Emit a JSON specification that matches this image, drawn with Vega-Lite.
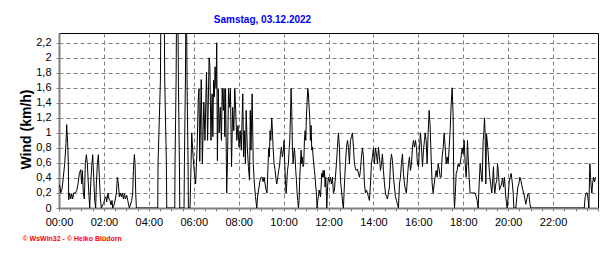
{
 "$schema": "https://vega.github.io/schema/vega-lite/v6.json",
 "width": 539, "height": 175,
 "autosize": {"type": "none"},
 "padding": {"left": 59, "top": 33, "right": 18, "bottom": 45},
 "background": "white",
 "title": {"text": "Samstag, 03.12.2022", "color": "#0000FF", "font": "Liberation Sans", "fontSize": 10, "fontWeight": "bold", "anchor": "middle", "frame": "group", "dx": -66, "offset": 0, "baseline": "alphabetic"},
 "data": {"values": [
  {"t":0,"v":0.31},{"t":2.7,"v":0.28},{"t":4.5,"v":0.2},{"t":8,"v":0.25},{"t":11.6,"v":0.41},{"t":15.2,"v":0.59},{"t":18.7,"v":0.86},{"t":20.5,"v":1.11},{"t":23.2,"v":0.86},{"t":25,"v":0.59},{"t":25.9,"v":0.11},{"t":28.5,"v":0.2},{"t":31.2,"v":0.12},{"t":33.9,"v":0.19},{"t":36.6,"v":0.12},{"t":39.2,"v":0.2},{"t":43.7,"v":0.2},{"t":47.2,"v":0.23},{"t":50.8,"v":0.32},{"t":54.4,"v":0.46},{"t":57.9,"v":0.51},{"t":60.6,"v":0.32},{"t":62.4,"v":0.5},{"t":65,"v":0.2},{"t":67.7,"v":0.12},{"t":70.4,"v":0.59},{"t":73.1,"v":0.71},{"t":75.8,"v":0.59},{"t":77.5,"v":0.41},{"t":80.2,"v":0.15},{"t":82,"v":0},{"t":84.7,"v":0.32},{"t":87.3,"v":0.55},{"t":90,"v":0.71},{"t":92.7,"v":0.41},{"t":95.4,"v":0.1},{"t":98,"v":0},{"t":99.8,"v":0.32},{"t":102.5,"v":0.59},{"t":105.2,"v":0.71},{"t":107.8,"v":0.41},{"t":110.5,"v":0.12},{"t":113.2,"v":0},{"t":116.7,"v":0.04},{"t":119.4,"v":0.06},{"t":122,"v":0.12},{"t":125.6,"v":0.15},{"t":127.4,"v":0.08},{"t":131,"v":0.2},{"t":133.6,"v":0.12},{"t":136.3,"v":0.1},{"t":139,"v":0.04},{"t":141.7,"v":0.1},{"t":143.5,"v":0},{"t":147,"v":0.04},{"t":150.6,"v":0.12},{"t":153.3,"v":0.2},{"t":155.9,"v":0.41},{"t":158.6,"v":0.32},{"t":161.3,"v":0.15},{"t":164,"v":0.2},{"t":166.6,"v":0.15},{"t":169.3,"v":0.2},{"t":172,"v":0.12},{"t":174.7,"v":0.19},{"t":177.3,"v":0.12},{"t":180.9,"v":0.17},{"t":183.6,"v":0.1},{"t":186.2,"v":0.04},{"t":188,"v":0},{"t":190.7,"v":0.04},{"t":194.2,"v":0.1},{"t":196.9,"v":0.2},{"t":198.7,"v":0.5},{"t":201.4,"v":0.71},{"t":203.2,"v":0.59},{"t":205,"v":0.2},{"t":206.7,"v":0},
  {"t":263.8,"v":0},{"t":264.6,"v":0.59},{"t":270.9,"v":1.69},{"t":271.8,"v":2.33},{"t":281.6,"v":2.33},{"t":282.5,"v":1.69},{"t":286.9,"v":0.59},{"t":287.8,"v":0},
  {"t":309.2,"v":0},{"t":310,"v":0.59},{"t":312.8,"v":1.69},{"t":313.7,"v":2.33},{"t":318.1,"v":2.33},{"t":319,"v":1.69},{"t":321.7,"v":0.59},{"t":322.6,"v":0},
  {"t":334.1,"v":0},{"t":335,"v":0.59},{"t":337.7,"v":1.69},{"t":338.6,"v":2.33},{"t":341.2,"v":2.33},{"t":342.1,"v":1.69},{"t":344.8,"v":0.59},{"t":345.7,"v":0},{"t":350.1,"v":0},
  {"t":352.8,"v":0.59},{"t":354.6,"v":1.0},{"t":358,"v":0.7},{"t":362,"v":0.45},{"t":365,"v":0.32},{"t":369,"v":0.8},{"t":372,"v":1.45},{"t":374,"v":1.59},{"t":376,"v":0.62},{"t":380,"v":1.71},{"t":383,"v":0.59},{"t":387,"v":1.41},{"t":390,"v":0.9},{"t":394,"v":1.81},{"t":397,"v":0.9},{"t":401,"v":2.0},{"t":403,"v":1.9},{"t":406,"v":0.9},{"t":409,"v":1.52},{"t":411,"v":0.95},{"t":413,"v":1.7},{"t":415,"v":1.48},{"t":417,"v":1.88},{"t":419.6,"v":1.6},{"t":421.4,"v":2.2},{"t":423.2,"v":0.63},{"t":425.5,"v":1.59},{"t":428,"v":1.0},{"t":431,"v":1.34},{"t":434,"v":0.9},{"t":436,"v":1.59},{"t":439,"v":1.3},{"t":441,"v":1.59},{"t":443,"v":0.95},{"t":445,"v":1.59},{"t":448,"v":0.2},{"t":450,"v":0.59},{"t":453,"v":1.59},{"t":456,"v":1.34},{"t":458,"v":1.59},{"t":461,"v":0.55},{"t":464,"v":1.34},{"t":467,"v":1.03},{"t":469.5,"v":1.59},{"t":472,"v":1.3},{"t":475,"v":0.9},{"t":478,"v":1.1},{"t":481,"v":0.81},{"t":484,"v":1.03},{"t":487,"v":0.77},{"t":491,"v":1.52},{"t":493,"v":0.68},{"t":495,"v":1.03},{"t":498,"v":0.59},{"t":500,"v":1.3},{"t":503,"v":0.81},{"t":506,"v":0.55},{"t":509,"v":0.37},{"t":511,"v":1.3},{"t":513,"v":0.77},{"t":516,"v":1.52},{"t":519,"v":0.59},{"t":522,"v":0.32},{"t":525,"v":0.15},{"t":528.3,"v":0},
  {"t":530.1,"v":0.12},{"t":531.8,"v":0.2},{"t":534.5,"v":0.28},{"t":537.2,"v":0.37},{"t":539.9,"v":0.41},{"t":542.5,"v":0.41},{"t":545.2,"v":0.35},{"t":547.9,"v":0.41},{"t":550.6,"v":0.32},{"t":553.2,"v":0.24},{"t":555.9,"v":0.2},{"t":558.6,"v":0.59},{"t":560.4,"v":0.8},{"t":562.1,"v":0.68},{"t":563.9,"v":1.03},{"t":565.7,"v":0.9},{"t":568.4,"v":1.2},{"t":570.2,"v":1.03},{"t":571.9,"v":0.81},{"t":574.6,"v":0.59},{"t":577.3,"v":0.5},{"t":580,"v":0.37},{"t":581.8,"v":0.32},{"t":584.4,"v":0.41},{"t":587.1,"v":0.5},{"t":589.8,"v":0.59},{"t":591.5,"v":0.71},{"t":594.2,"v":0.81},{"t":596.9,"v":0.68},{"t":599.6,"v":0.77},{"t":601.3,"v":0.9},{"t":603.1,"v":0.59},{"t":604.9,"v":0.37},{"t":606.7,"v":0.2},{"t":608.5,"v":0.32},{"t":610.3,"v":0.5},{"t":612.9,"v":0.59},{"t":614.7,"v":0.77},{"t":616.5,"v":0.9},{"t":618.3,"v":1.2},{"t":620.1,"v":1.59},{"t":621.8,"v":1.3},{"t":623.6,"v":0.8},{"t":625.4,"v":0.59},{"t":627.2,"v":0.72},{"t":629,"v":0.8},{"t":630.7,"v":0.68},{"t":632.5,"v":0.5},{"t":634.3,"v":0.37},{"t":636.1,"v":0.2},{"t":637.9,"v":0.1},{"t":639.7,"v":0},{"t":641.4,"v":0.1},{"t":643.2,"v":0.41},{"t":645,"v":0.59},{"t":646.8,"v":0.77},{"t":648.6,"v":0.59},{"t":650.3,"v":0.68},{"t":652.1,"v":0.55},{"t":653.9,"v":0.59},{"t":655.7,"v":0.9},{"t":657.5,"v":1.03},{"t":659.3,"v":0.9},{"t":661,"v":1.21},{"t":662.8,"v":1.41},{"t":664.6,"v":1.59},{"t":666.4,"v":1.52},{"t":668.2,"v":1.34},{"t":669.9,"v":1.21},{"t":671.7,"v":0.9},{"t":673.5,"v":1.1},{"t":675.3,"v":0.77},{"t":677.1,"v":0.81},{"t":678.9,"v":0.68},{"t":680.6,"v":0.59},{"t":682.4,"v":0.5},{"t":684.2,"v":0.41},{"t":686,"v":0.28},{"t":687.8,"v":0.2},{"t":689.6,"v":0},{"t":691.3,"v":0.1},{"t":693.1,"v":0.15},{"t":694.9,"v":0.24},{"t":696.7,"v":0.2},{"t":698.5,"v":0.15},{"t":700.2,"v":0.28},{"t":702,"v":0.46},{"t":703.8,"v":0.41},{"t":705.6,"v":0.5},{"t":707.4,"v":0.41},{"t":709.2,"v":0.5},{"t":710.9,"v":0.28},{"t":712.7,"v":0.41},{"t":714.5,"v":0.15},
  {"t":715.4,"v":0},{"t":718,"v":0.32},{"t":719.8,"v":0.41},{"t":722.5,"v":0.35},{"t":725.2,"v":0.41},{"t":727.8,"v":0.32},{"t":730.5,"v":0.41},{"t":733.2,"v":0.2},{"t":735.8,"v":0.24},{"t":738.5,"v":0.41},{"t":741.2,"v":0.59},{"t":743.9,"v":0.81},{"t":746.5,"v":1.0},{"t":749.2,"v":0.81},{"t":751,"v":0.5},{"t":752.8,"v":0.32},{"t":755.5,"v":0.2},{"t":758.1,"v":0.05},{"t":759.9,"v":0},{"t":762.6,"v":0.32},{"t":765.3,"v":0.59},{"t":767.9,"v":0.8},{"t":770.6,"v":0.9},{"t":773.3,"v":0.81},{"t":775.9,"v":0.59},{"t":778.6,"v":0.9},{"t":781.3,"v":0.95},{"t":784,"v":1.0},{"t":786.6,"v":0.81},{"t":789.3,"v":0.59},{"t":792,"v":0.52},{"t":794.6,"v":0.5},{"t":797.3,"v":0.52},{"t":800,"v":0.46},{"t":802.7,"v":0.41},{"t":805.3,"v":0.5},{"t":808,"v":0.68},{"t":810.7,"v":0.8},{"t":813.4,"v":0.68},{"t":816,"v":0.32},{"t":818.7,"v":0.2},{"t":821.4,"v":0.24},{"t":824,"v":0.2},{"t":826.7,"v":0.15},{"t":829.4,"v":0.1},{"t":832.1,"v":0.32},{"t":834.7,"v":0.59},{"t":837.4,"v":0.68},{"t":840.1,"v":0.8},{"t":842.8,"v":0.59},{"t":845.4,"v":0.8},{"t":848.1,"v":0.72},{"t":850.8,"v":0.59},{"t":853.5,"v":0.81},{"t":856.1,"v":0.68},{"t":858.8,"v":0.5},{"t":861.5,"v":0.59},{"t":864.1,"v":0.72},{"t":866.8,"v":0.5},{"t":869.5,"v":0.32},{"t":872.2,"v":0.2},{"t":874.8,"v":0.15},{"t":877.5,"v":0.12},{"t":880.2,"v":0.2},{"t":882.9,"v":0.28},{"t":885.5,"v":0.59},{"t":888.2,"v":0.72},{"t":890.9,"v":0.63},{"t":893.6,"v":0.41},{"t":896.2,"v":0.28},{"t":898.9,"v":0.15},{"t":901.6,"v":0.1},{"t":904.2,"v":0.05},{"t":906.9,"v":0},{"t":909.6,"v":0.32},{"t":912.3,"v":0.41},{"t":914.9,"v":0.59},{"t":917.6,"v":0.72},{"t":920.3,"v":0.46},{"t":923,"v":0.32},{"t":925.6,"v":0.24},{"t":928.3,"v":0.2},{"t":931,"v":0.41},{"t":933.7,"v":0.59},{"t":936.3,"v":0.68},{"t":939,"v":0.5},{"t":941.7,"v":0.59},{"t":944.3,"v":0.81},{"t":947,"v":0.9},{"t":949.7,"v":0.81},{"t":952.4,"v":0.9},{"t":955,"v":0.8},{"t":957.7,"v":0.59},{"t":960.4,"v":0.55},{"t":963.1,"v":0.8},{"t":965.7,"v":1.0},{"t":968.4,"v":0.81},{"t":971.1,"v":0.55},{"t":973.7,"v":0.77},{"t":976.4,"v":0.9},{"t":978.2,"v":1.0},{"t":980.9,"v":0.9},{"t":983.5,"v":0.59},{"t":986.2,"v":1.0},{"t":988.9,"v":1.3},{"t":991.6,"v":1.08},{"t":994.2,"v":0.68},{"t":996.9,"v":0.32},{"t":999.6,"v":0.2},{"t":1002.3,"v":0.32},{"t":1004.9,"v":0.41},{"t":1007.6,"v":0.5},{"t":1010.3,"v":0.41},{"t":1013,"v":0.59},{"t":1015.6,"v":0.52},{"t":1018.3,"v":0.41},{"t":1021,"v":0.41},{"t":1023.6,"v":0.68},{"t":1026.3,"v":0.8},{"t":1029,"v":1.0},{"t":1031.7,"v":0.81},{"t":1034.3,"v":0.59},{"t":1037,"v":0.68},{"t":1039.7,"v":0.59},{"t":1042.4,"v":0.81},{"t":1045,"v":1.03},{"t":1047.7,"v":1.38},{"t":1050.4,"v":1.6},{"t":1053.1,"v":1.21},{"t":1054.8,"v":0.24},{"t":1056.6,"v":0},{"t":1058.4,"v":0.15},{"t":1061.1,"v":0.46},{"t":1063.7,"v":0.5},{"t":1066.4,"v":0.59},{"t":1069.1,"v":0.55},
  {"t":1071.7,"v":0.59},{"t":1074.4,"v":0.68},{"t":1077,"v":0.8},{"t":1079.7,"v":0.72},{"t":1082.4,"v":0.9},{"t":1085.1,"v":0.59},{"t":1087.7,"v":0.41},{"t":1089.5,"v":0.59},{"t":1091.3,"v":0.9},{"t":1093.1,"v":0.68},{"t":1095.8,"v":0.41},{"t":1098.4,"v":0.2},{"t":1102.9,"v":0.2},{"t":1107.3,"v":0.2},{"t":1111.8,"v":0.2},{"t":1114.5,"v":0.15},{"t":1117.1,"v":0.1},{"t":1119.8,"v":0},{"t":1122.5,"v":0.32},{"t":1125.2,"v":0.59},{"t":1127.8,"v":0.46},{"t":1130.5,"v":0.35},{"t":1133.2,"v":0.9},{"t":1135,"v":1.0},{"t":1136.7,"v":1.2},{"t":1138.5,"v":0.99},{"t":1140.3,"v":0.32},{"t":1142.1,"v":0.99},{"t":1143.9,"v":0.9},{"t":1145.7,"v":0.8},{"t":1148.3,"v":0.59},{"t":1151,"v":0.41},{"t":1153.7,"v":0.3},{"t":1156.3,"v":0.2},{"t":1159,"v":0.41},{"t":1160.8,"v":0.55},{"t":1162.6,"v":0.28},{"t":1164.4,"v":0.2},{"t":1167,"v":0.32},{"t":1169.7,"v":0.37},{"t":1171.5,"v":0.59},{"t":1174.2,"v":0.46},{"t":1176.8,"v":0.24},{"t":1179.5,"v":0.28},{"t":1182.2,"v":0.32},{"t":1184.9,"v":0.4},{"t":1187.5,"v":0.28},{"t":1190.2,"v":0.41},{"t":1192.9,"v":0.2},{"t":1195.5,"v":0.06},{"t":1197.3,"v":0},{"t":1200,"v":0.15},{"t":1202.7,"v":0.35},{"t":1205.4,"v":0.41},{"t":1208,"v":0.46},{"t":1210.7,"v":0.35},{"t":1213.4,"v":0.2},{"t":1215.2,"v":0},{"t":1220.5,"v":0},{"t":1223.2,"v":0.15},{"t":1225.8,"v":0.28},{"t":1228.5,"v":0.32},{"t":1231.2,"v":0.41},{"t":1233.9,"v":0.37},{"t":1236.5,"v":0.3},{"t":1239.2,"v":0.24},{"t":1241.9,"v":0.19},{"t":1244.6,"v":0.12},{"t":1247.2,"v":0.05},{"t":1249.9,"v":0.12},{"t":1252.6,"v":0.19},{"t":1255.3,"v":0.19},{"t":1257.9,"v":0.06},{"t":1260.6,"v":0},
  {"t":1403.2,"v":0},{"t":1405.8,"v":0.15},{"t":1408.5,"v":0.2},{"t":1411.2,"v":0.2},{"t":1413.9,"v":0.1},{"t":1415.6,"v":0},{"t":1417.4,"v":0.41},{"t":1418.3,"v":0.59},{"t":1420.1,"v":0.41},{"t":1421.9,"v":0.28},{"t":1423.6,"v":0.2},{"t":1425.4,"v":0.32},{"t":1428.1,"v":0.41},{"t":1430.8,"v":0.35},{"t":1433.4,"v":0.41}
 ]},
 "mark": {"type": "line", "color": "black", "strokeWidth": 1, "clip": true},
 "encoding": {
  "x": {"field": "t", "type": "quantitative",
   "scale": {"domain": [0, 1440], "nice": false, "zero": false},
   "axis": {
    "values": [0,30,60,90,120,150,180,210,240,270,300,330,360,390,420,450,480,510,540,570,600,630,660,690,720,750,780,810,840,870,900,930,960,990,1020,1050,1080,1110,1140,1170,1200,1230,1260,1290,1320,1350,1380,1410,1440],
    "labelExpr": "datum.value % 120 === 0 && datum.value < 1440 ? (datum.value < 600 ? '0' : '') + (datum.value / 60) + ':00' : ''",
    "labelOverlap": false, "labelFlush": false,
    "labelFont": "Liberation Sans", "labelFontSize": 11, "labelColor": "black", "labelPadding": 5,
    "tickSize": 3, "tickColor": "#808080",
    "domainColor": "#808080", "domainWidth": 2,
    "grid": true, "gridColor": "#808080", "gridDash": [4, 3], "gridWidth": 1,
    "gridOpacity": {"condition": {"test": "datum.value % 120 === 0 && datum.value > 0 && datum.value < 1440", "value": 1}, "value": 0},
    "title": "© WsWin32 - © Heiko Blüdorn",
    "titleFont": "Liberation Sans", "titleFontSize": 7, "titleFontWeight": "bold", "titleColor": "#FF0000",
    "titleAnchor": "start", "titleAlign": "left", "titleBaseline": "alphabetic",
    "titleX": -37, "titleY": 32
   }},
  "y": {"field": "v", "type": "quantitative",
   "scale": {"domain": [0, 2.33], "nice": false, "zero": true},
   "axis": {
    "values": [0,0.2,0.4,0.6,0.8,1,1.2,1.4,1.6,1.8,2,2.2],
    "labelExpr": "replace(format(datum.value, '.1~f'), '.', ',')",
    "labelOverlap": false, "labelFlush": false,
    "labelFont": "Liberation Sans", "labelFontSize": 11, "labelColor": "black", "labelPadding": 5,
    "tickSize": 3, "tickColor": "#808080",
    "domainColor": "#808080", "domainWidth": 2,
    "grid": true, "gridColor": "#808080", "gridDash": [4, 3], "gridWidth": 1,
    "gridOpacity": {"condition": {"test": "datum.value > 0", "value": 1}, "value": 0},
    "title": "Wind  (km/h)",
    "titleFont": "Liberation Sans", "titleFontSize": 14, "titleFontWeight": "bold", "titleColor": "black",
    "titleAngle": -90, "titleAlign": "center", "titleBaseline": "alphabetic",
    "titleX": -29, "titleY": 96
   }}
 },
 "config": {"view": {"stroke": "black", "strokeWidth": 1}}
}
